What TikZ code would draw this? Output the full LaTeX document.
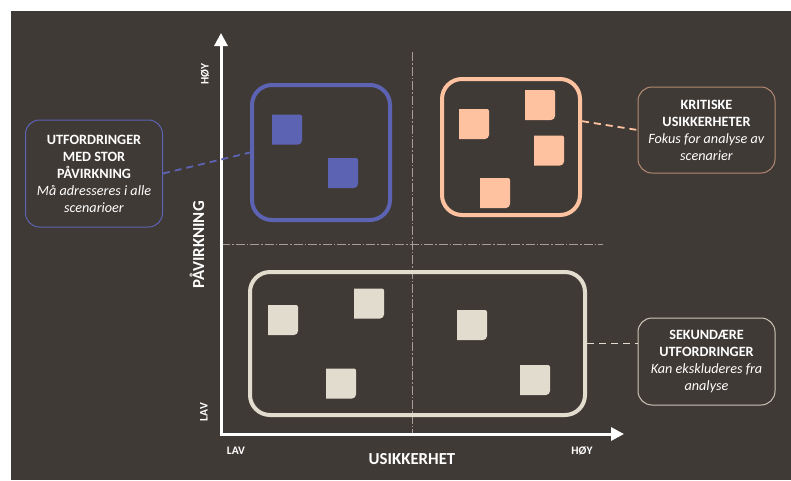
\documentclass[tikz,border=0pt]{standalone}
\usepackage{fontspec}
\setmainfont{Carlito}
\usetikzlibrary{arrows.meta}
\definecolor{bg}{RGB}{64,58,54}
\definecolor{blueq}{RGB}{92,99,178}
\definecolor{orangeq}{RGB}{255,194,160}
\definecolor{beigeq}{RGB}{226,220,207}
\definecolor{orangeline}{RGB}{180,138,116}
\definecolor{beigeline}{RGB}{205,197,183}
\definecolor{gridc}{RGB}{165,158,150}
\begin{document}
\begin{tikzpicture}[x=1pt,y=-1pt,
  axis/.style={white,line width=3pt,-{Triangle[width=13pt,length=13pt]}},
  gridline/.style={gridc,line width=0.7pt,dash pattern=on 9pt off 2pt on 1.5pt off 2pt},
  frame/.style={line width=4pt,rounded corners=20pt},
  callout/.style={draw,fill=bg,line width=1pt,rounded corners=14pt,minimum width=137pt,
    align=center,text=white,font=\fontsize{14.2}{17}\selectfont},
  link/.style={line width=1.8pt,dash pattern=on 7pt off 5pt},
  ticklabel/.style={text=white,font=\fontsize{11.5}{13}\selectfont\bfseries},
  axislabel/.style={text=white,font=\fontsize{16.8}{19}\selectfont\bfseries}]
\useasboundingbox (0,0) rectangle (791,480);
\fill[white] (0,0) rectangle (791,480);
\fill[bg] (11,11) rectangle (791,480);
\coordinate (o) at (221,434);
\coordinate (ytip) at (221,33);
\coordinate (xtip) at (624,434);
\coordinate (vtop) at (412,52);
\coordinate (hend) at (603,244);
\draw[gridline] (vtop) -- (vtop |- o);
\draw[gridline] (o |- hend) -- (hend);
\draw[axis] (o) -- (ytip);
\draw[axis] ([xshift=-1.5pt]o) -- (xtip);
\node[ticklabel,rotate=90] (yhigh) at (205,74) {HØY};
\node[ticklabel,rotate=90] (ylow) at (204,412) {LAV};
\node[axislabel,rotate=90] (ylabel) at (197,245) {PÅVIRKNING};
\node[ticklabel] (xlow) at (236,451) {LAV};
\node[ticklabel] (xhigh) at (582,451) {HØY};
\node[axislabel] (xlabel) at (412,459) {USIKKERHET};
\node[frame,draw=blueq,minimum width=138pt,minimum height=135pt] (bluebox) at (321,152.5) {};
\node[frame,draw=orangeq,minimum width=138pt,minimum height=136pt] (orangebox) at (511,147) {};
\node[frame,draw=beigeq,minimum width=335pt,minimum height=143pt] (beigebox) at (417.5,343.5) {};
\foreach \c/\x/\y in {blueq/287/129.5,blueq/343/173,
  orangeq/474/124,orangeq/540/105,orangeq/549/150.5,orangeq/495/193,
  beigeq/283/320,beigeq/369/303.5,beigeq/341/383.5,beigeq/472/325,beigeq/535/380}
  \fill[\c] (\x-15,\y-15) -- (\x+13,\y-15) arc[start angle=-90,end angle=0,radius=2]
    -- (\x+15,\y+11) arc[start angle=0,end angle=90,radius=4] -- (\x-15,\y+15) -- cycle;
\node[callout,draw=blueq,minimum height=107pt] (impact) at (94,173.5)
  {\textbf{UTFORDRINGER}\\\textbf{MED STOR}\\\textbf{PÅVIRKNING}\\\textit{Må adresseres i alle}\\\textit{scenarioer}};
\node[callout,draw=orangeline,minimum height=86pt] (critical) at (706.5,130)
  {\textbf{KRITISKE}\\\textbf{USIKKERHETER}\\\textit{Fokus for analyse av}\\\textit{scenarier}};
\node[callout,draw=beigeline,minimum height=87pt] (secondary) at (706.5,361.5)
  {\textbf{SEKUNDÆRE}\\\textbf{UTFORDRINGER}\\\textit{Kan ekskluderes fra}\\\textit{analyse}};
\draw[link,blueq] (impact.east) -- (bluebox.west);
\draw[link,orangeq] (orangebox.20) -- (critical.west);
\draw[link,beigeq] (beigebox.east) -- (beigebox.east -| secondary.west);
\end{tikzpicture}
\end{document}
